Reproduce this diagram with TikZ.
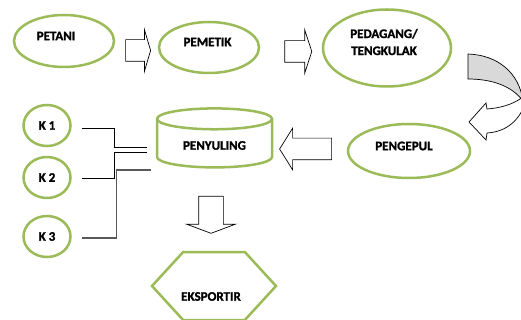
\documentclass[tikz,border=0pt]{standalone}
\usepackage{fontspec}
\setmainfont{Carlito}[BoldFont={Carlito Bold}, BoldFeatures={FakeBold=1.5}]
\usepackage{tikz}
\usetikzlibrary{shapes.geometric, shapes.arrows, shapes.symbols, calc}
\definecolor{leafgreen}{HTML}{9BBB59}

\begin{document}
\begin{tikzpicture}[x=1pt, y=-1pt,
    actor/.style={ellipse, draw=leafgreen, line width=2.5pt, inner sep=0pt},
    blockarrow/.style={single arrow, draw, line width=0.7pt, fill=white, inner sep=10.5pt, single arrow head extend=10pt},
    every label/.style={font=\bfseries\fontsize{13}{17}\selectfont, align=center}]
    \useasboundingbox (0,0) rectangle (521,320);
    \clip (0,0) rectangle (521,320);

    % Draw the actors of the chain
    \node[actor, minimum width=100pt, minimum height=52pt, label={[shift={(-8,-5)}]center:PETANI}] (Petani) at (64,41) {};
    \node[actor, minimum width=100pt, minimum height=51pt, label={[shift={(-1.5,-5.5)}]center:PEMETIK}] (Pemetik) at (209,47.5) {};
    \node[actor, minimum width=128pt, minimum height=77pt, label={[shift={(-3,-6)}]center:PEDAGANG/\\TENGKULAK}] (Pedagang) at (387,48) {};
    \node[actor, minimum width=122pt, minimum height=54pt, label={[shift={(-5,-5)}]center:PENGEPUL}] (Pengepul) at (409,151) {};
    \node[cylinder, shape border rotate=90, draw=leafgreen, line width=2.5pt, aspect=0.3, minimum width=115pt, minimum height=59pt, font=\bfseries\fontsize{13}{17}\selectfont] (Penyuling) at (214.5,145.5) {PENYULING};
    \node[signal, signal to=west and east, signal pointer angle=95, draw=leafgreen, line width=2.5pt, minimum width=124pt, minimum height=68pt, label={[shift={(-3,10.5)}]center:EKSPORTIR}] (Eksportir) at (214,286) {};

    % Optional: the small circles
    \foreach \i/\y in {1/125.5, 2/177.5, 3/236.5}
        \node[actor, minimum width=47pt, minimum height=41pt, label=center:K \i] (K\i) at (47,\y) {};

    % Block arrows between the actors
    \node[blockarrow, minimum height=25pt, single arrow tip angle=147] (ArrowA) at (136.5,50.5) {};
    \node[blockarrow, minimum height=27pt, single arrow tip angle=144, single arrow head extend=11pt] (ArrowB) at (296.5,51.5) {};
    \node[blockarrow, minimum height=52pt, single arrow tip angle=116, shape border rotate=180] (ArrowC) at (309,149) {};
    \node[blockarrow, minimum height=37pt, single arrow tip angle=139, inner sep=12pt, single arrow head extend=12pt, shape border rotate=270] (ArrowD) at (211,212.5) {};

    % Curved arrow from PEDAGANG down to PENGEPUL
    \draw[line width=0.7pt, fill=gray!30] (468,54) .. controls (497,55) and (519,72) .. (523,101) .. controls (512,86) and (492,79) .. (468,79) -- cycle;
    \draw[line width=0.7pt, fill=white] (523,97) .. controls (512,105) and (500,108) .. (487,109) -- (486,103) -- (469,122) -- (486,140) -- (487,133) .. controls (506,132) and (521,120) .. (526,100) -- cycle;

    % Lines from the K circles to the distiller
    \draw[line width=0.8pt] ($(K1.east)+(10,2.5)$) -- ++(33,0) |- ($(Penyuling.west)+(-9,1.5)$);
    \draw[line width=0.8pt] ($(K2.east)+(10,0.5)$) -- ++(33,0) |- ($(Penyuling.west)+(-9,6.5)$);
    \draw[line width=1.2pt, black!65] ($(K3.east)+(10,1.5)$) -- ++(35,0) |- ($(Penyuling.west)+(-5,24.5)$);
\end{tikzpicture}
\end{document}
